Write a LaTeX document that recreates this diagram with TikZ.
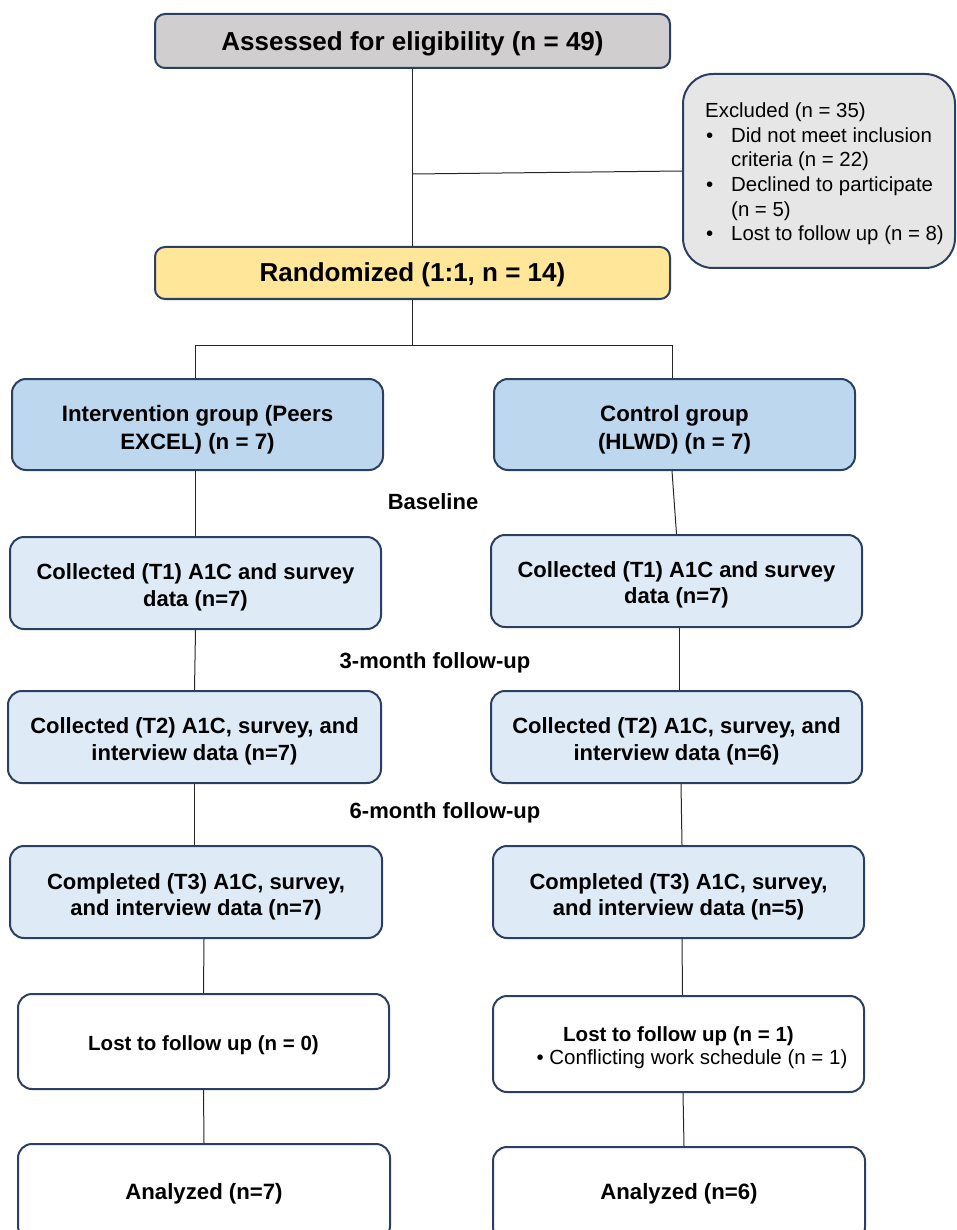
\documentclass[tikz,border=0pt]{standalone}
\usepackage{fontspec}
\setmainfont{Liberation Sans}
\usetikzlibrary{calc}
\definecolor{bordc}{HTML}{2B3F63}
\definecolor{grayf}{HTML}{D0CECE}
\definecolor{excf}{HTML}{E7E6E6}
\definecolor{randf}{HTML}{FFE699}
\definecolor{grpf}{HTML}{BDD7EE}
\definecolor{tf}{HTML}{DEEBF7}
\newcommand\lowstrut[1]{\rule{0pt}{#1}}
\begin{document}
\begin{tikzpicture}[x=1pt,y=-1pt,
  box/.style={draw=bordc, line width=2pt, rounded corners=14pt, align=center, inner sep=0pt},
  low/.style={execute at begin node={\rule{0pt}{#1}}},
  bigtext/.style={font=\bfseries\fontsize{26}{30}\selectfont},
  grptext/.style={font=\bfseries\fontsize{22.3}{28.3}\selectfont},
  ttext/.style={font=\bfseries\fontsize{22}{26.5}\selectfont},
  bottext/.style={font=\bfseries\fontsize{20.5}{23}\selectfont},
  anatext/.style={font=\bfseries\fontsize{22.2}{26}\selectfont},
  conn/.style={draw=black!85, line width=1pt},
  lbl/.style={font=\bfseries\fontsize{22}{26}\selectfont, inner sep=0pt}]
\useasboundingbox (0,0) rectangle (956,1230);
\clip (0,0) rectangle (956,1230);

% top
\node[box, fill=grayf, minimum width=515pt, minimum height=54pt, rounded corners=10pt, bigtext, low=24pt] (assess) at (412.5,41) {Assessed for eligibility (n = 49)};
\node[box, fill=excf, minimum width=272pt, minimum height=194pt, rounded corners=30pt] (exc) at (819,171) {};
\node[anchor=west, align=left, inner sep=0pt, font=\fontsize{20.4}{24.6}\selectfont] (exct) at ([xshift=23pt,yshift=-3pt]exc.west) {Excluded (n = 35)\\
\makebox[26pt][l]{\hspace{1pt}•}Did not meet inclusion\\
\hspace*{26pt}criteria (n = 22)\\
\makebox[26pt][l]{\hspace{1pt}•}Declined to participate\\
\hspace*{26pt}(n = 5)\\
\makebox[26pt][l]{\hspace{1pt}•}Lost to follow up (n = 8)};
\node[box, fill=randf, minimum width=515pt, minimum height=52pt, rounded corners=10pt, bigtext, low=23pt] (rand) at (412.5,273) {Randomized (1:1, n = 14)};

% groups
\node[box, fill=grpf, minimum width=371pt, minimum height=91pt, grptext] (int) at (197.5,424.5) {\lowstrut{26.3pt}Intervention group (Peers\\EXCEL) (n = 7)};
\node[box, fill=grpf, minimum width=361pt, minimum height=91pt, grptext] (ctl) at (674.5,424.5) {\lowstrut{26.3pt}Control group\\(HLWD) (n = 7)};

% time points
\node[box, fill=tf, minimum width=371pt, minimum height=92pt, ttext] (t1l) at (195.5,583) {\lowstrut{25pt}Collected (T1) A1C and survey\\data (n=7)};
\node[box, fill=tf, minimum width=371pt, minimum height=92pt, ttext] (t1r) at (676.5,581) {\lowstrut{24pt}Collected (T1) A1C and survey\\data (n=7)};
\node[box, fill=tf, minimum width=373pt, minimum height=92pt, ttext] (t2l) at (194.5,737) {\lowstrut{25pt}Collected (T2) A1C, survey, and\\interview data (n=7)};
\node[box, fill=tf, minimum width=371pt, minimum height=92pt, ttext] (t2r) at (676.5,737) {\lowstrut{25pt}Collected (T2) A1C, survey, and\\interview data (n=6)};
\node[box, fill=tf, minimum width=372pt, minimum height=92pt, ttext] (t3l) at (196,892) {\lowstrut{26pt}Completed (T3) A1C, survey,\\and interview data (n=7)};
\node[box, fill=tf, minimum width=371pt, minimum height=92pt, ttext] (t3r) at (678.5,892) {\lowstrut{26pt}Completed (T3) A1C, survey,\\and interview data (n=5)};

% bottom
\node[box, fill=white, minimum width=371pt, minimum height=95pt, bottext, low=23pt] (lostl) at (203.5,1041.5) {Lost to follow up (n = 0)};
\node[box, fill=white, minimum width=371pt, minimum height=96pt, bottext] (lostr) at (678.5,1044) {\lowstrut{23pt}Lost to follow up (n = 1)\\{\mdseries\hspace*{27pt}• Conflicting work schedule (n = 1)}};
\node[box, fill=white, minimum width=372pt, minimum height=96pt, anatext, low=20pt] (anal) at (204,1192) {Analyzed (n=7)};
\node[box, fill=white, minimum width=372pt, minimum height=94pt, anatext] (anar) at (679,1194) {Analyzed (n=6)};

% labels
\node[lbl] (lb1) at (433,502) {Baseline};
\node[lbl] (lb2) at (435,663) {3-month follow-up};
\node[lbl] (lb3) at (445,813) {6-month follow-up};

% connectors
\coordinate (bj) at (412.5,174);
\draw[conn] (assess.south) -- (rand.north);
\draw[conn] (bj) -- (exc.west);
\coordinate (rj) at (412.5,345);
\coordinate (rl) at (195,345);
\coordinate (rr) at (672,345);
\draw[conn] (rand.south) -- (rj);
\draw[conn] (rl) -- (rr);
\draw[conn] (rl) -- (rl |- int.north);
\draw[conn] (rr) -- (rr |- ctl.north);

\draw[conn] (int.south -| t1l.north) -- (t1l.north);
\draw[conn] ([xshift=-2.5pt]ctl.south) -- (t1r.north);
\draw[conn] (t1l.south) -- (t2l.north);
\draw[conn] ([xshift=3pt]t1r.south) -- ([xshift=3pt]t2r.north);
\draw[conn] (t2l.south) -- ([xshift=-1.5pt]t3l.north);
\draw[conn] ([xshift=4.5pt]t2r.south) -- ([xshift=3.5pt]t3r.north);
\draw[conn] ([xshift=8pt]t3l.south) -- (lostl.north);
\draw[conn] ([xshift=3.5pt]t3r.south) -- ([xshift=4pt]lostr.north);
\draw[conn] (lostl.south) -- (anal.north);
\draw[conn] ([xshift=4.5pt]lostr.south) -- ([xshift=5pt]anar.north);
\end{tikzpicture}
\end{document}
